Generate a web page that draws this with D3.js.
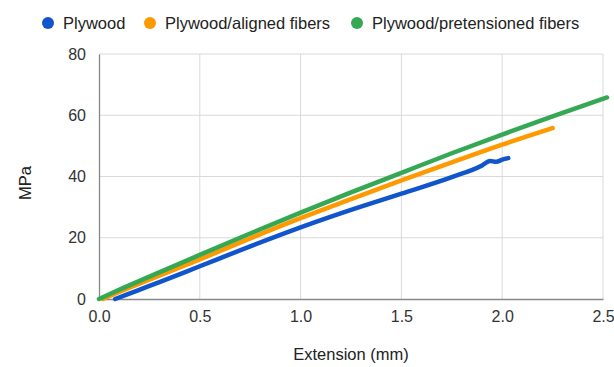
<!DOCTYPE html>
<html>
<head>
<meta charset="utf-8">
<script src="https://cdn.jsdelivr.net/npm/d3@7"></script>
<style>
  body { margin: 0; background: #fff; }
  svg { font-family: Arial, "Liberation Sans", sans-serif; }
</style>
</head>
<body>
<svg id="chart" width="614" height="367"></svg>
<script>
// Stress vs extension
const seriesNames = ['Plywood', 'Plywood/aligned fibers', 'Plywood/pretensioned fibers'];
const seriesColors = ['#1155cc', '#ff9900', '#34a853'];

const plywoodX = [0.08, 0.2, 0.3, 0.5, 0.75, 1.0, 1.25, 1.5, 1.75, 1.9, 1.94, 1.97, 2.0, 2.03];
const plywoodY = [0, 3, 5.5, 10.7, 17.2, 23.4, 29.1, 34.4, 39.8, 43.6, 45.1, 44.8, 45.5, 46];

const alignedX = [0.02, 0.1, 0.25, 0.5, 0.75, 1.0, 1.25, 1.5, 1.75, 2.0, 2.25];
const alignedY = [0, 2.3, 6.3, 12.9, 19.8, 26.4, 32.6, 38.7, 44.6, 50.4, 55.8];

const pretensionedX = [0, 0.1, 0.25, 0.5, 0.75, 1.0, 1.25, 1.5, 1.75, 2.0, 2.25, 2.52];
const pretensionedY = [0, 3, 7.3, 14.4, 21.4, 28.2, 34.8, 41.2, 47.6, 53.7, 59.6, 65.8];

const xTicks = [0, 0.5, 1.0, 1.5, 2.0, 2.5];
const yTicks = [0, 20, 40, 60, 80];

const series = [
  { name: seriesNames[0], color: seriesColors[0], xs: plywoodX, ys: plywoodY },
  { name: seriesNames[1], color: seriesColors[1], xs: alignedX, ys: alignedY },
  { name: seriesNames[2], color: seriesColors[2], xs: pretensionedX, ys: pretensionedY }
];

const svg = d3.select('#chart');
const margin = { left: 99, right: 11, top: 54, bottom: 68 };
const width = 614, height = 367;

const x = d3.scaleLinear().domain([0, 2.5]).range([margin.left, width - margin.right]);
const y = d3.scaleLinear().domain([0, 80]).range([height - margin.bottom, margin.top]);

// Gridlines
const grid = svg.append('g');
grid.selectAll('.vgrid')
  .data(xTicks.slice(1))
  .enter().append('line')
  .attr('x1', d => x(d)).attr('x2', d => x(d))
  .attr('y1', y(0)).attr('y2', y(80))
  .attr('stroke', '#d9d9d9').attr('stroke-width', 1);
grid.selectAll('.hgrid')
  .data(yTicks.slice(1))
  .enter().append('line')
  .attr('x1', x(0)).attr('x2', x(2.5))
  .attr('y1', d => y(d)).attr('y2', d => y(d))
  .attr('stroke', '#d9d9d9').attr('stroke-width', 1);

// Axes
const xAxis = svg.append('g')
  .attr('transform', `translate(0,${y(0)})`)
  .call(d3.axisBottom(x).tickValues(xTicks).tickFormat(d3.format('.1f')).tickSize(0).tickPadding(12));
const yAxis = svg.append('g')
  .attr('transform', `translate(${x(0)},0)`)
  .call(d3.axisLeft(y).tickValues(yTicks).tickSize(0).tickPadding(13));

[xAxis, yAxis].forEach(a => {
  a.select('.domain').attr('stroke', '#888').attr('stroke-width', 1.3);
  a.selectAll('text').attr('font-size', 16).attr('fill', '#333')
    .attr('font-family', 'Arial, "Liberation Sans", sans-serif');
});

// Lines
const line = d3.line()
  .curve(d3.curveMonotoneX)
  .x(d => x(d[0]))
  .y(d => y(d[1]));

svg.append('g')
  .selectAll('path')
  .data(series)
  .enter().append('path')
  .attr('d', d => line(d.xs.map((v, i) => [v, d.ys[i]])))
  .attr('fill', 'none')
  .attr('stroke', d => d.color)
  .attr('stroke-width', 4.5)
  .attr('stroke-linejoin', 'round')
  .attr('stroke-linecap', 'round');

// Axis titles
svg.append('text')
  .attr('x', 351).attr('y', 360)
  .attr('text-anchor', 'middle')
  .attr('font-size', 16.5).attr('fill', '#222')
  .text('Extension (mm)');
svg.append('text')
  .attr('transform', `translate(31,183) rotate(-90)`)
  .attr('text-anchor', 'middle')
  .attr('font-size', 16.5).attr('fill', '#222')
  .text('MPa');

// Legend
const legendX = [48, 150, 357];
const legend = svg.append('g')
  .selectAll('g')
  .data(series)
  .enter().append('g')
  .attr('transform', (d, i) => `translate(${legendX[i]},23)`);
legend.append('circle')
  .attr('r', 6)
  .attr('fill', d => d.color);
legend.append('text')
  .attr('x', 15).attr('y', 6)
  .attr('font-size', 16.5).attr('fill', '#222')
  .text(d => d.name);
</script>
</body>
</html>
